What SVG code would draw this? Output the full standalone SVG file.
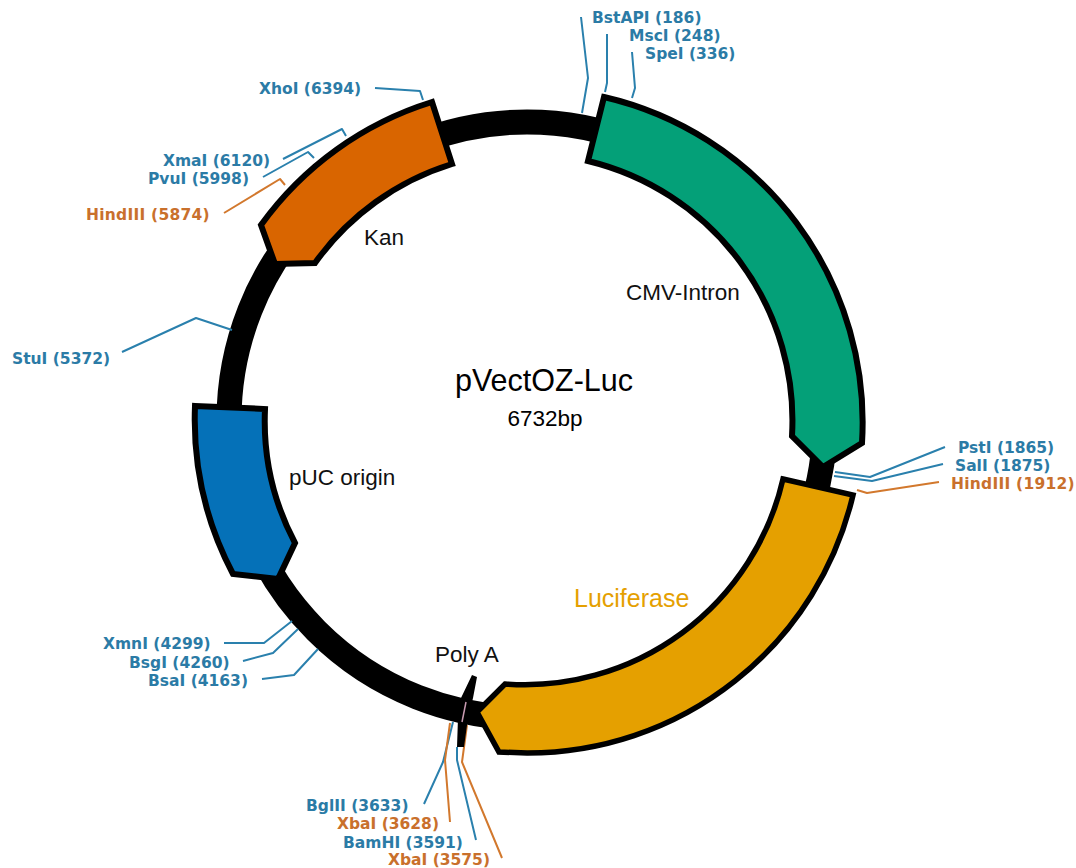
<svg xmlns="http://www.w3.org/2000/svg" width="1076" height="868" viewBox="0 0 1076 868">
<style>
.b{fill:#2b7ba6}.o{fill:#c9702c}
.s{font:bold 15.5px "DejaVu Sans",Verdana,sans-serif}
.h{letter-spacing:.25px}
.c{fill:none;stroke-width:2;stroke-linejoin:round}
.cb{stroke:#2a80ad}.co{stroke:#d2782d}
.f{stroke:#000;stroke-width:6;stroke-linejoin:miter}
.l{font-family:"Liberation Sans",Arial,sans-serif;font-size:22.5px;fill:#111}
</style>
<rect width="1076" height="868" fill="#fff"/>
<g id="backbone"><circle cx="527" cy="420" r="298" fill="none" stroke="#000" stroke-width="25"/></g>
<g id="connectors">
<polyline class="c cb" points="581,17 588,78 582,113"/>
<polyline class="c cb" points="607,34 607,83 605,92"/>
<polyline class="c cb" points="632,52 635,88 632,98"/>
<polyline class="c cb" points="375,88 420,91 423,100"/>
<polyline class="c cb" points="283,159 342,129 346,136"/>
<polyline class="c cb" points="263,177 308,152 314,158"/>
<polyline class="c co" points="224,213 280,179 285,185"/>
<polyline class="c cb" points="122,352 196,318 232,330"/>
<polyline class="c cb" points="945,447 870,477 835,472"/>
<polyline class="c cb" points="943,464 872,481 834,476"/>
<polyline class="c co" points="939,482 867,493 857,490"/>
<polyline class="c cb" points="224,643 264,643 292,621"/>
<polyline class="c cb" points="243,661 273,653 298,629"/>
<polyline class="c cb" points="262,679 294,675 318,649"/>
<polyline class="c cb" points="424,804 443,762 453,722"/>
<polyline class="c co" points="450,822 445,760 450,723"/>
<polyline class="c cb" points="476,840 457,760 457,747"/>
<polyline class="c co" points="502,858 462,762 467,725"/>
</g>
<g id="cmv"><path class="f" fill="#04a078" d="M604,97 A334,334 0 0 1 862,443 L823,467 L792,436 A267,267 0 0 0 588,161 Z"/><text class="l" x="626" y="300">CMV-Intron</text></g>
<g id="luciferase"><path class="f" fill="#e5a000" style="stroke-width:5.5" d="M783,479 L853,495 A334,334 0 0 1 527,753 L499,752 L477,712 L505,684 A265,265 0 0 0 783,479 Z"/><text x="574" y="607" font-family="Liberation Sans,Arial,sans-serif" font-size="25" fill="#e5a000">Luciferase</text></g>
<g id="kan"><path class="f" fill="#d96500" d="M432,102 L452,164 A264,264 0 0 0 315,263 L275,264 L261,225 A332,332 0 0 1 432,102 Z"/><text class="l" x="364" y="245">Kan</text></g>
<g id="puc"><path class="f" fill="#0571b8" d="M195,406 L265,409 A262,262 0 0 0 295,543 L278,579 L233,574 A332,332 0 0 1 195,406 Z"/><text class="l" x="289" y="485">pUC origin</text></g>
<g id="polya"><path fill="#000" d="M472,675 L477,677 L473,698 L468,718 L464,747 L457,747 L458,718 L461,698 Z"/><path d="M466,702 L462,722" stroke="#c79ab0" stroke-width="1.5" fill="none"/><text class="l" x="435" y="662">Poly A</text></g>
<g id="title"><text x="544" y="391" text-anchor="middle" font-family="Liberation Sans,Arial,sans-serif" font-size="30.5" fill="#000">pVectOZ-Luc</text><text x="545" y="426" text-anchor="middle" font-family="Liberation Sans,Arial,sans-serif" font-size="22.5" fill="#000">6732bp</text></g>
<g id="sites">
<text class="s b" x="592" y="23">BstAPI (186)</text>
<text class="s b" x="629" y="41">MscI (248)</text>
<text class="s b" x="645" y="59">SpeI (336)</text>
<text class="s b" x="259" y="94">XhoI (6394)</text>
<text class="s b" x="163" y="166">XmaI (6120)</text>
<text class="s b" x="148" y="184">PvuI (5998)</text>
<text class="s o h" x="86" y="220">HindIII (5874)</text>
<text class="s b" x="12" y="364">StuI (5372)</text>
<text class="s b" x="958" y="453">PstI (1865)</text>
<text class="s b" x="955" y="471">SalI (1875)</text>
<text class="s o h" x="951" y="489">HindIII (1912)</text>
<text class="s b" x="103" y="649">XmnI (4299)</text>
<text class="s b" x="129" y="668">BsgI (4260)</text>
<text class="s b" x="148" y="686">BsaI (4163)</text>
<text class="s b" x="306" y="811">BglII (3633)</text>
<text class="s o" x="337" y="829">XbaI (3628)</text>
<text class="s b" x="343" y="848">BamHI (3591)</text>
<text class="s o" x="388" y="865">XbaI (3575)</text>
</g>
</svg>
